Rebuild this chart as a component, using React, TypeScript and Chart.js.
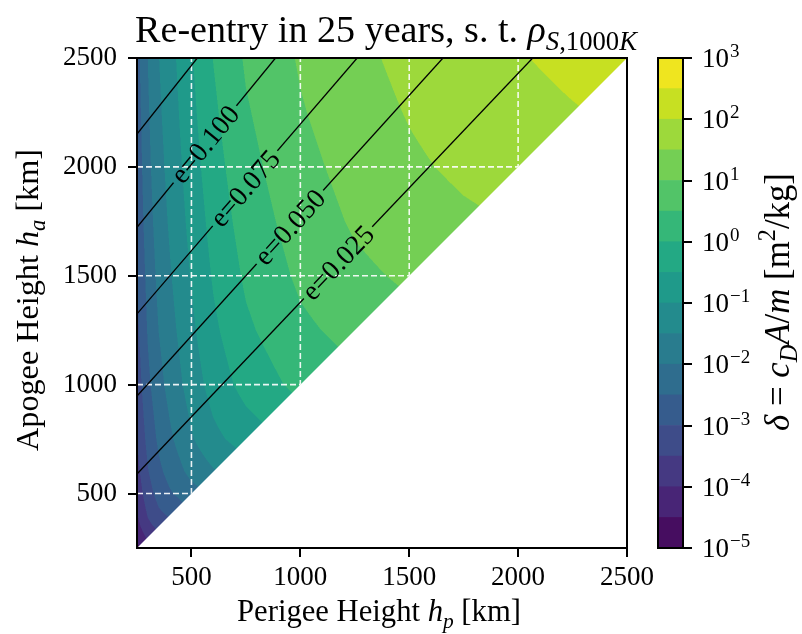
import React, { useEffect, useRef } from "react";
import { Chart, registerables } from "chart.js";

Chart.register(...registerables);

const FONT = '"Liberation Serif", "Times New Roman", serif';

// ---- axes ----
const hpAxisRange = [250, 2500];
const haAxisRange = [250, 2500];
const xTickValues = [500, 1000, 1500, 2000, 2500];
const yTickValues = [500, 1000, 1500, 2000, 2500];

// ---- log10(delta) field (rows: perigee nodes, values from ha = hp upward) ----
const gridHp = [250, 300, 350, 400, 500, 600, 750, 1000, 1250, 1500, 1750, 2000, 2250, 2500];
const gridHa = [250, 300, 350, 400, 500, 600, 750, 1000, 1250, 1500, 1750, 2000, 2250, 2500];
const logDeltaHp250 = [-4.65, -4.37, -4.17, -4.03, -3.82, -3.66, -3.49, -3.28, -3.12, -3.0, -2.9, -2.82, -2.74, -2.67];
const logDeltaHp300 = [-3.9, -3.64, -3.46, -3.21, -3.03, -2.84, -2.61, -2.45, -2.33, -2.22, -2.13, -2.06, -1.99];
const logDeltaHp350 = [-3.36, -3.11, -2.81, -2.61, -2.4, -2.16, -1.99, -1.86, -1.75, -1.66, -1.58, -1.51];
const logDeltaHp400 = [-2.95, -2.56, -2.33, -2.09, -1.84, -1.68, -1.55, -1.44, -1.35, -1.27, -1.19];
const logDeltaHp500 = [-2.2, -1.85, -1.55, -1.27, -1.1, -0.96, -0.84, -0.73, -0.63, -0.54];
const logDeltaHp600 = [-1.55, -1.13, -0.8, -0.6, -0.45, -0.32, -0.2, -0.09, 0.01];
const logDeltaHp750 = [-0.78, -0.32, -0.09, 0.08, 0.22, 0.34, 0.45, 0.56];
const logDeltaHp1000 = [0.14, 0.4, 0.59, 0.73, 0.85, 0.96, 1.05];
const logDeltaHp1250 = [0.66, 0.89, 1.06, 1.18, 1.29, 1.38];
const logDeltaHp1500 = [1.08, 1.27, 1.42, 1.53, 1.63];
const logDeltaHp1750 = [1.42, 1.59, 1.72, 1.83];
const logDeltaHp2000 = [1.7, 1.85, 1.97];
const logDeltaHp2250 = [1.97, 2.11];
const logDeltaHp2500 = [2.22];
const logDeltaRows = [
  logDeltaHp250, logDeltaHp300, logDeltaHp350, logDeltaHp400, logDeltaHp500, logDeltaHp600, logDeltaHp750,
  logDeltaHp1000, logDeltaHp1250, logDeltaHp1500, logDeltaHp1750, logDeltaHp2000, logDeltaHp2250, logDeltaHp2500,
];

// ---- contour levels / colorbar ----
const levelExps = [-5, -4.5, -4, -3.5, -3, -2.5, -2, -1.5, -1, -0.5, 0, 0.5, 1, 1.5, 2, 2.5, 3];
const colorbarTickExps = [-5, -4, -3, -2, -1, 0, 1, 2, 3];
const bandColors = [
  "#460d60", "#482576", "#453982", "#3e4c89", "#365c8d", "#2f6d8e", "#297c8e", "#238b8d",
  "#1f9a8a", "#23a984", "#35b778", "#52c468", "#74cf54", "#9dd93b", "#c7e022", "#efe51f",
];

// ---- eccentricity lines ----
const eLevels = [0.025, 0.05, 0.075, 0.1, 0.125];
const eLineHaAtLeft = [590, 948, 1325, 1723, 2151];
const eLineHpAtTop = [2067, 1655, 1261, 886, 527];
const eLabelHp: (number | null)[] = [1173, 952, 746, 562, null];

// ---------------------------------------------------------------
type Seg = { t: string; it?: boolean; sub?: boolean; sup?: boolean };

function segFont(s: Seg, size: number) {
  const sz = s.sub || s.sup ? size * 0.7 : size;
  return `${s.it ? "italic " : ""}${sz}px ${FONT}`;
}
function richWidth(ctx: CanvasRenderingContext2D, segs: Seg[], size: number) {
  let w = 0;
  for (const s of segs) {
    ctx.font = segFont(s, size);
    w += ctx.measureText(s.t).width;
  }
  return w;
}
function fitSize(ctx: CanvasRenderingContext2D, segs: Seg[], target: number) {
  const base = 30;
  return (base * target) / richWidth(ctx, segs, base);
}
function drawRich(ctx: CanvasRenderingContext2D, segs: Seg[], size: number, cx: number, by: number, rot: number) {
  ctx.save();
  ctx.translate(cx, by);
  ctx.rotate(rot);
  const w = richWidth(ctx, segs, size);
  let x = -w / 2;
  ctx.textAlign = "left";
  ctx.textBaseline = "alphabetic";
  ctx.fillStyle = "#000";
  for (const s of segs) {
    ctx.font = segFont(s, size);
    const dy = s.sub ? size * 0.22 : s.sup ? -size * 0.4 : 0;
    ctx.fillText(s.t, x, dy);
    x += ctx.measureText(s.t).width;
  }
  ctx.restore();
}

function nodeIndex(arr: number[], v: number) {
  let i = 0;
  while (i < arr.length - 2 && v > arr[i + 1]) i++;
  return i;
}
function G(i: number, j: number) {
  return logDeltaRows[i][j - i];
}
function field(hp: number, ha: number) {
  hp = Math.min(Math.max(hp, gridHp[0]), gridHp[gridHp.length - 1]);
  ha = Math.min(Math.max(ha, gridHa[0]), gridHa[gridHa.length - 1]);
  if (ha < hp) ha = hp;
  const i = nodeIndex(gridHp, hp);
  let j = nodeIndex(gridHa, ha);
  if (j < i) j = i;
  const x0 = gridHp[i], x1 = gridHp[i + 1], y0 = gridHa[j], y1 = gridHa[j + 1];
  const tx = (hp - x0) / (x1 - x0), ty = (ha - y0) / (y1 - y0);
  const v00 = G(i, j), v01 = G(i, j + 1), v11 = G(i + 1, j + 1);
  const v10 = j >= i + 1 ? G(i + 1, j) : v00 + v11 - v01;
  return v00 * (1 - tx) * (1 - ty) + v10 * tx * (1 - ty) + v01 * (1 - tx) * ty + v11 * tx * ty;
}
function bandOf(v: number) {
  for (let k = 0; k < bandColors.length; k++) if (v < levelExps[k + 1]) return k;
  return bandColors.length - 1;
}
function hexToRgb(h: string) {
  return [parseInt(h.slice(1, 3), 16), parseInt(h.slice(3, 5), 16), parseInt(h.slice(5, 7), 16)];
}

function getFieldImage(chart: any): HTMLCanvasElement {
  const ca = chart.chartArea;
  const key = `${ca.left},${ca.top},${ca.right},${ca.bottom}`;
  if (chart._cfImg && chart._cfKey === key) return chart._cfImg;
  const S = 2;
  const W = Math.round(ca.right - ca.left), H = Math.round(ca.bottom - ca.top);
  const off = document.createElement("canvas");
  off.width = W * S;
  off.height = H * S;
  const octx = off.getContext("2d")!;
  const img = octx.createImageData(W * S, H * S);
  const xs = chart.scales.x, ys = chart.scales.y;
  const rgb = bandColors.map(hexToRgb);
  const hpCol: number[] = [];
  for (let px = 0; px < W * S; px++) hpCol.push(xs.getValueForPixel(ca.left + (px + 0.5) / S));
  for (let py = 0; py < H * S; py++) {
    const ha = ys.getValueForPixel(ca.top + (py + 0.5) / S);
    for (let px = 0; px < W * S; px++) {
      const c = rgb[bandOf(field(hpCol[px], ha))];
      const o = (py * W * S + px) * 4;
      img.data[o] = c[0];
      img.data[o + 1] = c[1];
      img.data[o + 2] = c[2];
      img.data[o + 3] = 255;
    }
  }
  octx.putImageData(img, 0, 0);
  chart._cfImg = off;
  chart._cfKey = key;
  return off;
}

function trianglePath(chart: any) {
  const ctx = chart.ctx, xs = chart.scales.x, ys = chart.scales.y;
  ctx.beginPath();
  ctx.moveTo(xs.getPixelForValue(hpAxisRange[0]), ys.getPixelForValue(haAxisRange[0]));
  ctx.lineTo(xs.getPixelForValue(hpAxisRange[0]), ys.getPixelForValue(haAxisRange[1]));
  ctx.lineTo(xs.getPixelForValue(hpAxisRange[1]), ys.getPixelForValue(haAxisRange[1]));
  ctx.closePath();
}

function drawGrid(chart: any) {
  const ctx = chart.ctx, ca = chart.chartArea, xs = chart.scales.x, ys = chart.scales.y;
  ctx.save();
  ctx.strokeStyle = "rgba(255,255,255,0.9)";
  ctx.lineWidth = 1.6;
  ctx.setLineDash([6, 3]);
  for (const v of xTickValues) {
    const x = xs.getPixelForValue(v);
    ctx.beginPath();
    ctx.moveTo(x, ca.bottom);
    ctx.lineTo(x, ca.top);
    ctx.stroke();
  }
  for (const v of yTickValues) {
    const y = ys.getPixelForValue(v);
    ctx.beginPath();
    ctx.moveTo(ca.left, y);
    ctx.lineTo(ca.right, y);
    ctx.stroke();
  }
  ctx.restore();
}

const LABEL_SIZE = 28;

const contourPlugin = {
  id: "contourFill",
  beforeDatasetsDraw(chart: any) {
    const ctx = chart.ctx, ca = chart.chartArea;
    const img = getFieldImage(chart);
    ctx.save();
    trianglePath(chart);
    ctx.clip();
    ctx.imageSmoothingEnabled = true;
    ctx.drawImage(img, ca.left, ca.top, ca.right - ca.left, ca.bottom - ca.top);
    drawGrid(chart);
    ctx.restore();
  },
  afterDatasetsDraw(chart: any) {
    const ctx = chart.ctx, ca = chart.chartArea, xs = chart.scales.x, ys = chart.scales.y;
    const img = getFieldImage(chart);
    eLevels.forEach((e, i) => {
      const lh = eLabelHp[i];
      if (lh == null) return;
      const x1 = xs.getPixelForValue(hpAxisRange[0]), y1 = ys.getPixelForValue(eLineHaAtLeft[i]);
      const x2 = xs.getPixelForValue(eLineHpAtTop[i]), y2 = ys.getPixelForValue(haAxisRange[1]);
      const th = Math.atan2(y2 - y1, x2 - x1);
      const cx = xs.getPixelForValue(lh);
      const cy = y1 + ((cx - x1) / (x2 - x1)) * (y2 - y1);
      const txt = "e=" + e.toFixed(3);
      ctx.font = `${LABEL_SIZE}px ${FONT}`;
      const w = ctx.measureText(txt).width;
      // inline gap in the line
      ctx.save();
      ctx.translate(cx, cy);
      ctx.rotate(th);
      ctx.beginPath();
      ctx.rect(-w / 2 - 4, -4, w + 8, 8);
      ctx.restore();
      ctx.save();
      ctx.clip();
      trianglePath(chart);
      ctx.clip();
      ctx.drawImage(img, ca.left, ca.top, ca.right - ca.left, ca.bottom - ca.top);
      drawGrid(chart);
      ctx.restore();
      // label
      ctx.save();
      ctx.translate(cx, cy);
      ctx.rotate(th);
      ctx.font = `${LABEL_SIZE}px ${FONT}`;
      ctx.fillStyle = "#000";
      ctx.textAlign = "center";
      ctx.textBaseline = "alphabetic";
      ctx.fillText(txt, 0, LABEL_SIZE * 0.32);
      ctx.restore();
    });
  },
  afterDraw(chart: any) {
    const ctx = chart.ctx, ca = chart.chartArea;
    ctx.save();
    ctx.strokeStyle = "#000";
    ctx.lineWidth = 2;
    ctx.strokeRect(ca.left, ca.top, ca.right - ca.left, ca.bottom - ca.top);
    ctx.restore();

    const title: Seg[] = [
      { t: "Re-entry in 25 years, s. t. " },
      { t: "ρ", it: true },
      { t: "S", it: true, sub: true },
      { t: ",1000", sub: true },
      { t: "K", it: true, sub: true },
    ];
    drawRich(ctx, title, fitSize(ctx, title, 502), 386, 42, 0);

    const xl: Seg[] = [{ t: "Perigee Height " }, { t: "h", it: true }, { t: "p", it: true, sub: true }, { t: " [km]" }];
    drawRich(ctx, xl, fitSize(ctx, xl, 284), 379, 621, 0);

    const yl: Seg[] = [{ t: "Apogee Height " }, { t: "h", it: true }, { t: "a", it: true, sub: true }, { t: " [km]" }];
    drawRich(ctx, yl, fitSize(ctx, yl, 302), 38, 300, -Math.PI / 2);
  },
};

const colorbarPlugin = {
  id: "colorbarDecor",
  afterDraw(chart: any) {
    const ctx = chart.ctx, ca = chart.chartArea, ys = chart.scales.y;
    ctx.save();
    ctx.strokeStyle = "#000";
    ctx.lineWidth = 2;
    ctx.strokeRect(ca.left, ca.top, ca.right - ca.left, ca.bottom - ca.top);
    ctx.restore();

    ctx.save();
    ctx.fillStyle = "#000";
    ctx.textAlign = "left";
    ctx.textBaseline = "alphabetic";
    for (const ex of colorbarTickExps) {
      const y = ys.getPixelForValue(Math.pow(10, ex));
      const x0 = ca.right + 19;
      ctx.font = `27px ${FONT}`;
      ctx.fillText("10", x0, y + 9);
      const w = ctx.measureText("10").width;
      ctx.font = `19px ${FONT}`;
      ctx.fillText(ex < 0 ? "\u2212" + Math.abs(ex) : String(ex), x0 + w + 1, y - 1);
    }
    ctx.restore();

    const cl: Seg[] = [
      { t: "δ", it: true },
      { t: " = " },
      { t: "c", it: true },
      { t: "D", it: true, sub: true },
      { t: "A", it: true },
      { t: "/" },
      { t: "m", it: true },
      { t: " [m" },
      { t: "2", sup: true },
      { t: "/kg]" },
    ];
    drawRich(ctx, cl, fitSize(ctx, cl, 258), 789, 302, -Math.PI / 2);
  },
};

export default function App() {
  const mainRef = useRef<HTMLCanvasElement>(null);
  const cbRef = useRef<HTMLCanvasElement>(null);

  useEffect(() => {
    const axisGrid = {
      display: true,
      drawOnChartArea: false,
      drawTicks: true,
      tickLength: 9,
      tickWidth: 2,
      tickColor: "#000",
      color: "#000",
      lineWidth: 2,
    };
    const tickFmt = (v: any) => String(v);
    const main = new Chart(mainRef.current!, {
      type: "scatter",
      data: {
        datasets: eLevels.map((e, i) => ({
          label: "e=" + e.toFixed(3),
          data: [
            { x: hpAxisRange[0], y: eLineHaAtLeft[i] },
            { x: eLineHpAtTop[i], y: haAxisRange[1] },
          ],
          showLine: true,
          borderColor: "#000",
          borderWidth: 1.3,
          pointRadius: 0,
          fill: false,
        })),
      },
      options: {
        responsive: false,
        animation: false,
        devicePixelRatio: 1,
        events: [],
        layout: { padding: { left: 0, top: 58, right: 175, bottom: 0 } },
        plugins: { legend: { display: false }, tooltip: { enabled: false }, title: { display: false } },
        scales: {
          x: {
            type: "linear",
            min: hpAxisRange[0],
            max: hpAxisRange[1],
            afterBuildTicks: (s: any) => {
              s.ticks = xTickValues.map((v) => ({ value: v }));
            },
            afterFit: (s: any) => {
              s.height = 86;
            },
            grid: axisGrid,
            border: { display: true, color: "#000", width: 2 },
            ticks: { color: "#000", font: { family: FONT, size: 27 }, padding: 5, maxRotation: 0, autoSkip: false, callback: tickFmt },
          },
          y: {
            type: "linear",
            min: haAxisRange[0],
            max: haAxisRange[1],
            afterBuildTicks: (s: any) => {
              s.ticks = yTickValues.map((v) => ({ value: v }));
            },
            afterFit: (s: any) => {
              s.width = 137;
            },
            grid: axisGrid,
            border: { display: true, color: "#000", width: 2 },
            ticks: { color: "#000", font: { family: FONT, size: 27 }, padding: 11, autoSkip: false, callback: tickFmt },
          },
        },
      } as any,
      plugins: [contourPlugin],
    });

    const cb = new Chart(cbRef.current!, {
      type: "bar",
      data: {
        labels: [""],
        datasets: bandColors.map((c, k) => ({
          label: `band ${k}`,
          data: [[Math.pow(10, levelExps[k]), Math.pow(10, levelExps[k + 1])]],
          backgroundColor: c,
          borderWidth: 0,
          barPercentage: 1,
          categoryPercentage: 1,
          grouped: false,
        })),
      } as any,
      options: {
        responsive: false,
        animation: false,
        devicePixelRatio: 1,
        events: [],
        layout: { padding: { left: 658, top: 58, right: 0, bottom: 86 } },
        plugins: { legend: { display: false }, tooltip: { enabled: false } },
        scales: {
          x: { display: false },
          y: {
            type: "logarithmic",
            position: "right",
            min: Math.pow(10, levelExps[0]),
            max: Math.pow(10, levelExps[levelExps.length - 1]),
            afterBuildTicks: (s: any) => {
              s.ticks = colorbarTickExps.map((e) => ({ value: Math.pow(10, e) }));
            },
            afterFit: (s: any) => {
              s.width = 802 - 683;
            },
            grid: axisGrid,
            border: { display: true, color: "#000", width: 2 },
            ticks: { callback: () => "", autoSkip: false },
          },
        },
      } as any,
      plugins: [colorbarPlugin],
    });

    return () => {
      main.destroy();
      cb.destroy();
    };
  }, []);

  return (
    <div style={{ position: "absolute", left: 0, top: 0, width: 802, height: 634, background: "#fff" }}>
      <canvas ref={mainRef} width={802} height={634} style={{ position: "absolute", left: 0, top: 0 }} />
      <canvas ref={cbRef} width={802} height={634} style={{ position: "absolute", left: 0, top: 0 }} />
    </div>
  );
}
